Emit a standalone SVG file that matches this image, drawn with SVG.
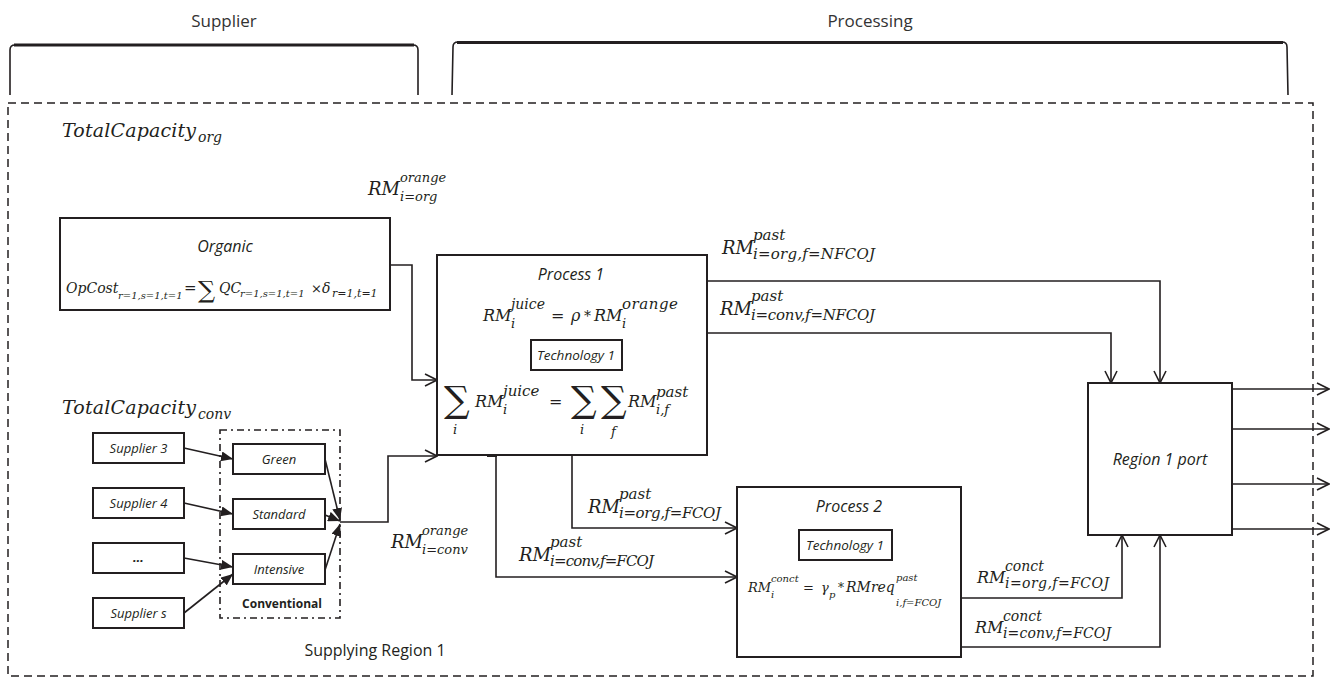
<svg xmlns="http://www.w3.org/2000/svg" width="1338" height="684" viewBox="0 0 1338 684">
<defs>
<marker id="open" viewBox="0 0 14 14" refX="13" refY="7" markerWidth="14" markerHeight="14" markerUnits="userSpaceOnUse" orient="auto">
<path d="M1,1 L13,7 L1,13" fill="none" stroke="#231f20" stroke-width="1.6"/>
</marker>
<marker id="solid" viewBox="0 0 12 10" refX="12" refY="5" markerWidth="12" markerHeight="10" markerUnits="userSpaceOnUse" orient="auto">
<path d="M0,0 L12,5 L0,10 Z" fill="#231f20"/>
</marker>
</defs>
<style>
.box{fill:#fff;stroke:#231f20;stroke-width:2}
.ln{fill:none;stroke:#231f20;stroke-width:1.6}
.oa{marker-end:url(#open)}
.sa{marker-end:url(#solid)}
.hd{font-family:'Open Sans','Liberation Sans',sans-serif;font-size:17px;fill:#333}
.lbl{font-family:'Open Sans','Liberation Sans',sans-serif;font-style:italic;fill:#231f20;text-anchor:middle}
.m{font-family:'DejaVu Serif','Liberation Serif',serif;font-style:italic;fill:#231f20}
.up{font-family:'DejaVu Serif','Liberation Serif',serif;fill:#231f20}
</style>

<g id="headers">
<text class="hd" x="224" y="27" text-anchor="middle">Supplier</text>
<text class="hd" x="870" y="27" text-anchor="middle">Processing</text>
<path d="M10,95 L10,50 Q10,45 15,45 L413,45 Q418,45 418,50 L418,95" fill="none" stroke="#231f20" stroke-width="1.6"/>
<line x1="14" y1="45" x2="414" y2="45" stroke="#231f20" stroke-width="3"/>
<path d="M452,95 L453,47 Q453,42 458,42 L1282,42 Q1287,42 1287,47 L1288,95" fill="none" stroke="#231f20" stroke-width="1.6"/>
<line x1="457" y1="42.5" x2="1283" y2="42.5" stroke="#231f20" stroke-width="3"/>
</g>

<rect id="region" x="8" y="103" width="1305" height="573" fill="none" stroke="#231f20" stroke-width="1.5" stroke-dasharray="8,5"/>

<g id="totalcap-org">
<text class="m" x="62" y="137" font-size="19" textLength="134">TotalCapacity</text>
<text class="m" x="198" y="142" font-size="14">org</text>
</g>
<g id="totalcap-conv">
<text class="m" x="62" y="414" font-size="19" textLength="134">TotalCapacity</text>
<text class="m" x="198" y="419" font-size="14">conv</text>
</g>

<g id="organic">
<rect class="box" x="60" y="218" width="330" height="92"/>
<text class="lbl" x="225" y="252" font-size="16">Organic</text>
<text class="m" x="66" y="293" font-size="14">OpCost</text>
<text class="m" x="118" y="299" font-size="10">r=1,s=1,t=1</text>
<text class="up" x="184" y="293" font-size="15">=</text>
<text class="up" x="198" y="298" font-size="24">∑</text>
<text class="m" x="219" y="293" font-size="14">QC</text>
<text class="m" x="240" y="297" font-size="10">r=1,s=1,t=1</text>
<text class="up" x="311" y="293" font-size="13">×</text>
<text class="m" x="322" y="293" font-size="14">δ</text>
<text class="m" x="332" y="297" font-size="11">r=1,t=1</text>
</g>

<g id="process1">
<rect class="box" x="437" y="255" width="270" height="200"/>
<text class="lbl" x="571" y="280" font-size="16">Process 1</text>
<text class="m" x="483" y="321" font-size="16">RM</text>
<text class="m" x="511" y="309" font-size="14">juice</text>
<text class="m" x="511" y="328" font-size="13">i</text>
<text class="up" x="551" y="321" font-size="16">=</text>
<text class="m" x="571" y="321" font-size="16">ρ</text>
<text class="up" x="584" y="321" font-size="14">*</text>
<text class="m" x="594" y="321" font-size="16">RM</text>
<text class="m" x="622" y="309" font-size="15" textLength="56">orange</text>
<text class="m" x="622" y="328" font-size="13">i</text>
<rect x="531" y="340" width="91" height="30" fill="#fff" stroke="#231f20" stroke-width="2"/>
<text class="lbl" x="576" y="360" font-size="13.5">Technology 1</text>
<text class="up" x="444" y="412" font-size="36">∑</text>
<text class="m" x="453" y="434" font-size="13">i</text>
<text class="m" x="475" y="407" font-size="16">RM</text>
<text class="m" x="503" y="396" font-size="15">juice</text>
<text class="m" x="503" y="414" font-size="13">i</text>
<text class="up" x="549" y="407" font-size="16">=</text>
<text class="up" x="571" y="412" font-size="36">∑</text>
<text class="m" x="580" y="434" font-size="13">i</text>
<text class="up" x="601" y="412" font-size="36">∑</text>
<text class="m" x="611" y="436" font-size="13">f</text>
<text class="m" x="628" y="407" font-size="16">RM</text>
<text class="m" x="656" y="397" font-size="15">past</text>
<text class="m" x="656" y="414" font-size="13">i,f</text>
</g>

<g id="process2">
<rect class="box" x="737" y="487" width="224" height="170"/>
<text class="lbl" x="849" y="512" font-size="16">Process 2</text>
<rect x="799" y="530" width="93" height="30" fill="#fff" stroke="#231f20" stroke-width="2"/>
<text class="lbl" x="845" y="550" font-size="13.5">Technology 1</text>
<text class="m" x="748" y="592" font-size="13">RM</text>
<text class="m" x="771" y="582" font-size="10">conct</text>
<text class="m" x="771" y="598" font-size="10">i</text>
<text class="up" x="803" y="592" font-size="13">=</text>
<text class="m" x="821" y="592" font-size="13">γ</text>
<text class="m" x="829" y="598" font-size="10">p</text>
<text class="up" x="838" y="592" font-size="12">*</text>
<text class="m" x="846" y="592" font-size="14">RMreq</text>
<text class="m" x="896" y="581" font-size="10">past</text>
<text class="m" x="896" y="606" font-size="10">i,f=FCOJ</text>
</g>

<g id="port">
<rect class="box" x="1088" y="383" width="144" height="152"/>
<text class="lbl" x="1160" y="465" font-size="16">Region 1 port</text>
</g>

<g id="suppliers">
<rect class="box" x="93" y="433" width="91" height="30"/>
<text class="lbl" x="138.5" y="453" font-size="13">Supplier 3</text>
<rect class="box" x="93" y="488" width="91" height="30"/>
<text class="lbl" x="138.5" y="508" font-size="13">Supplier 4</text>
<rect class="box" x="93" y="543" width="91" height="30"/>
<text class="lbl" x="138.5" y="562" font-size="13" font-weight="bold">…</text>
<rect class="box" x="93" y="598" width="91" height="30"/>
<text class="lbl" x="138.5" y="618" font-size="13">Supplier s</text>
</g>

<g id="conventional">
<rect x="220" y="430" width="120" height="188" fill="none" stroke="#231f20" stroke-width="1.6" stroke-dasharray="7,4,2,4"/>
<rect class="box" x="233" y="444" width="92" height="30"/>
<text class="lbl" x="279" y="464" font-size="13">Green</text>
<rect class="box" x="233" y="499" width="92" height="30"/>
<text class="lbl" x="279" y="519" font-size="13">Standard</text>
<rect class="box" x="233" y="554" width="92" height="30"/>
<text class="lbl" x="279" y="574" font-size="13">Intensive</text>
<text x="282" y="608" font-family="'Open Sans','Liberation Sans',sans-serif" font-size="12" font-weight="bold" fill="#231f20" text-anchor="middle">Conventional</text>
</g>

<g id="connectors">
<line class="ln sa" x1="184" y1="448" x2="233" y2="459"/>
<line class="ln sa" x1="184" y1="503" x2="233" y2="514"/>
<line class="ln sa" x1="184" y1="558" x2="233" y2="567"/>
<line class="ln sa" x1="184" y1="613" x2="233" y2="574"/>
<line class="ln sa" x1="325" y1="459" x2="340" y2="520"/>
<line class="ln sa" x1="325" y1="515" x2="340" y2="521"/>
<line class="ln sa" x1="325" y1="570" x2="340" y2="524"/>
<path class="ln oa" d="M340,522 L388,522 L388,456 L437,456"/>
<path class="ln oa" d="M390,265 L412,265 L412,380 L437,380"/>
<path class="ln oa" d="M707,281 L1160,281 L1160,383"/>
<path class="ln oa" d="M707,333 L1111,333 L1111,383"/>
<path class="ln oa" d="M572,455 L572,528 L737,528"/>
<path class="ln oa" d="M496,455 L496,577 L737,577"/>
<line x1="487" y1="455.5" x2="497" y2="455.5" stroke="#231f20" stroke-width="3"/>
<path class="ln oa" d="M961,598 L1122,598 L1122,535"/>
<path class="ln oa" d="M961,647 L1160,647 L1160,535"/>
<line class="ln oa" x1="1232" y1="389" x2="1329" y2="389"/>
<line class="ln oa" x1="1232" y1="429" x2="1329" y2="429"/>
<line class="ln oa" x1="1232" y1="484" x2="1329" y2="484"/>
<line class="ln oa" x1="1232" y1="529" x2="1329" y2="529"/>
</g>

<g id="labels">
<text class="m" x="368" y="195" font-size="18">RM</text>
<text class="m" x="400" y="182" font-size="13">orange</text>
<text class="m" x="400" y="201" font-size="13">i=org</text>

<text class="m" x="391" y="548" font-size="18">RM</text>
<text class="m" x="422" y="535" font-size="13">orange</text>
<text class="m" x="422" y="554" font-size="13">i=conv</text>

<text class="m" x="722" y="254" font-size="18">RM</text>
<text class="m" x="753" y="240" font-size="15">past</text>
<text class="m" x="753" y="259" font-size="15" textLength="122">i=org,f=NFCOJ</text>

<text class="m" x="720" y="315" font-size="18">RM</text>
<text class="m" x="751" y="301" font-size="15">past</text>
<text class="m" x="751" y="320" font-size="15" textLength="124">i=conv,f=NFCOJ</text>

<text class="m" x="588" y="513" font-size="18">RM</text>
<text class="m" x="619" y="499" font-size="15">past</text>
<text class="m" x="619" y="518" font-size="15" textLength="102">i=org,f=FCOJ</text>

<text class="m" x="519" y="561" font-size="18">RM</text>
<text class="m" x="550" y="547" font-size="15">past</text>
<text class="m" x="550" y="566" font-size="15" textLength="104">i=conv,f=FCOJ</text>

<text class="m" x="977" y="583" font-size="16">RM</text>
<text class="m" x="1005" y="571" font-size="14">conct</text>
<text class="m" x="1005" y="588" font-size="14" textLength="104">i=org,f=FCOJ</text>

<text class="m" x="975" y="633" font-size="16">RM</text>
<text class="m" x="1003" y="621" font-size="14">conct</text>
<text class="m" x="1003" y="638" font-size="14" textLength="108">i=conv,f=FCOJ</text>
</g>

<text x="375" y="656" font-family="'Open Sans','Liberation Sans',sans-serif" font-size="16" fill="#231f20" text-anchor="middle">Supplying Region 1</text>
</svg>
